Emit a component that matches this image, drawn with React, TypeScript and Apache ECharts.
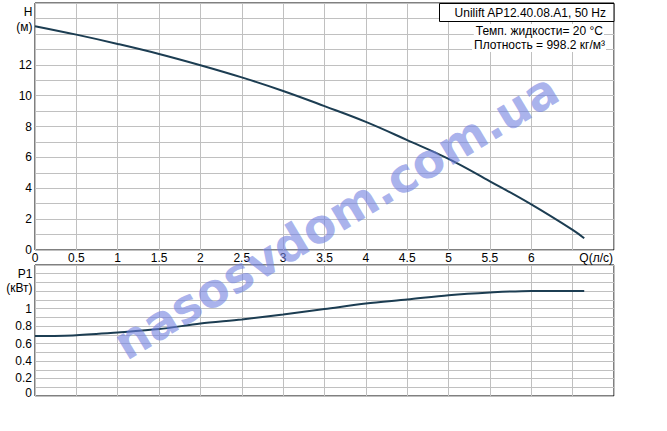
import React, { useEffect, useRef } from "react";
import * as echarts from "echarts";

// Flow rate Q (l/s)
const Q = [0, 0.5, 1, 1.5, 2, 2.5, 3, 3.5, 4, 4.5, 5, 5.5, 6, 6.5, 6.64];
// Head H (m)
const H = [14.5, 13.95, 13.35, 12.7, 11.97, 11.18, 10.3, 9.32, 8.3, 7.12, 5.9, 4.45, 2.95, 1.3, 0.76];
// Power P1 (kW)
const P1 = [0.686, 0.697, 0.728, 0.766, 0.83, 0.877, 0.934, 0.995, 1.06, 1.105, 1.154, 1.185, 1.203, 1.203, 1.203];

const TITLE = "Unilift AP12.40.08.A1, 50 Hz";
const TEMP = "Темп. жидкости= 20 °C";
const DENS = "Плотность = 998.2 кг/м³";
const X_NAME = "Q(л/с)";
const H_NAME = ["H", "(м)"];
const P_NAME = ["P1", "(кВт)"];
const WATERMARK = "nasosvdom.com.ua";

const FONT = "Liberation Sans, Arial, sans-serif";
const GRID_COLOR = "#c0c0c0";
const LINE_COLOR = "#1c3d52";

export default function App() {
  const ref = useRef<HTMLDivElement>(null);
  useEffect(() => {
    if (!ref.current) return;
    const chart = echarts.init(ref.current, undefined, { renderer: "svg" });
    const lbl = (text: string, x: number, y: number, extra: any = {}) => ({
      type: "text",
      x,
      y,
      z: 10,
      style: {
        text,
        fontSize: 12,
        fontFamily: FONT,
        fill: "#000",
        align: "right",
        textAlign: "right",
        verticalAlign: "middle",
        textVerticalAlign: "middle",
        ...extra,
      },
    });
    const option: any = {
      animation: false,
      backgroundColor: "#fff",
      textStyle: { fontFamily: FONT },
      grid: [
        { left: 35, top: 3, width: 579, height: 247, show: true, borderColor: "#000", borderWidth: 1, backgroundColor: "transparent" },
        { left: 35, top: 265, width: 579, height: 131, show: true, borderColor: "#000", borderWidth: 1, backgroundColor: "transparent" },
      ],
      xAxis: [
        {
          gridIndex: 0, type: "value", min: 0, max: 7, interval: 0.5,
          axisLine: { show: false }, axisTick: { show: false },
          splitLine: { show: true, lineStyle: { color: GRID_COLOR, width: 1 } },
          axisLabel: {
            margin: 2, color: "#000", fontSize: 12, fontFamily: FONT,
            formatter: (v: number) => (v > 6.01 ? "" : String(v)),
          },
        },
        {
          gridIndex: 1, type: "value", min: 0, max: 7, interval: 0.5,
          axisLine: { show: false }, axisTick: { show: false },
          splitLine: { show: true, lineStyle: { color: GRID_COLOR, width: 1 } },
          axisLabel: { show: false },
        },
      ],
      yAxis: [
        {
          gridIndex: 0, type: "value", min: 0, max: 16, interval: 1,
          axisLine: { show: false }, axisTick: { show: false },
          splitLine: { show: true, lineStyle: { color: GRID_COLOR, width: 1 } },
          axisLabel: {
            margin: 3, color: "#000", fontSize: 12, fontFamily: FONT,
            formatter: (v: number) => (v % 2 === 0 && v <= 12 ? String(v) : ""),
          },
        },
        {
          gridIndex: 1, type: "value", min: 0, max: 1.5, interval: 0.1,
          axisLine: { show: false }, axisTick: { show: false },
          splitLine: { show: true, lineStyle: { color: GRID_COLOR, width: 1 } },
          axisLabel: {
            margin: 3, color: "#000", fontSize: 12, fontFamily: FONT,
            formatter: (v: number) => {
              const r = Math.round(v * 10);
              if (r === 0) return "{z|0}";
              if (r === 2) return "{t|0.2}";
              if (r % 2 === 0 && r <= 10) return String(r / 10);
              return "";
            },
            rich: {
              z: { fontSize: 12, fontFamily: FONT, color: "#000", padding: [0, 0, 6, 0] },
              t: { fontSize: 12, fontFamily: FONT, color: "#000", padding: [0, 0, 2, 0] },
            },
          },
        },
      ],
      series: [
        {
          type: "line", xAxisIndex: 0, yAxisIndex: 0, smooth: 0.4, showSymbol: false,
          lineStyle: { color: LINE_COLOR, width: 2 },
          data: Q.map((q, i) => [q, H[i]]),
        },
        {
          type: "line", xAxisIndex: 1, yAxisIndex: 1, smooth: 0.3, showSymbol: false,
          lineStyle: { color: LINE_COLOR, width: 2 },
          data: Q.map((q, i) => [q, P1[i]]),
        },
      ],
      graphic: [
        {
          type: "rect", z: 5,
          shape: { x: 439.5, y: 3.5, width: 174.5, height: 18 },
          style: { fill: "#fff", stroke: "#000", lineWidth: 1 },
        },
        lbl(TITLE, 606, 13),
        lbl(TEMP, 604, 31, { backgroundColor: "#fff", padding: [1, 1, 1, 2] }),
        lbl(DENS, 606, 45, { backgroundColor: "#fff", padding: [1, 1, 1, 2] }),
        lbl(H_NAME[0], 32.5, 12),
        lbl(H_NAME[1], 32.5, 27),
        lbl(P_NAME[0], 32.5, 274),
        lbl(P_NAME[1], 32.5, 288),
        lbl(X_NAME, 613, 258),
        {
          type: "text", z: 20,
          x: 336, y: 216,
          rotation: (31 * Math.PI) / 180,
          style: {
            text: WATERMARK,
            fontSize: 47,
            fontWeight: "bold",
            fontFamily: "DejaVu Sans, sans-serif",
            fill: "#7080e0",
            opacity: 0.6,
            align: "center",
            textAlign: "center",
            verticalAlign: "middle",
            textVerticalAlign: "middle",
          },
        },
      ],
    };
    chart.setOption(option);
    return () => chart.dispose();
  }, []);
  return (
    <div
      ref={ref}
      style={{ position: "fixed", left: 0, top: 0, width: 667, height: 431, background: "#fff" }}
    />
  );
}
